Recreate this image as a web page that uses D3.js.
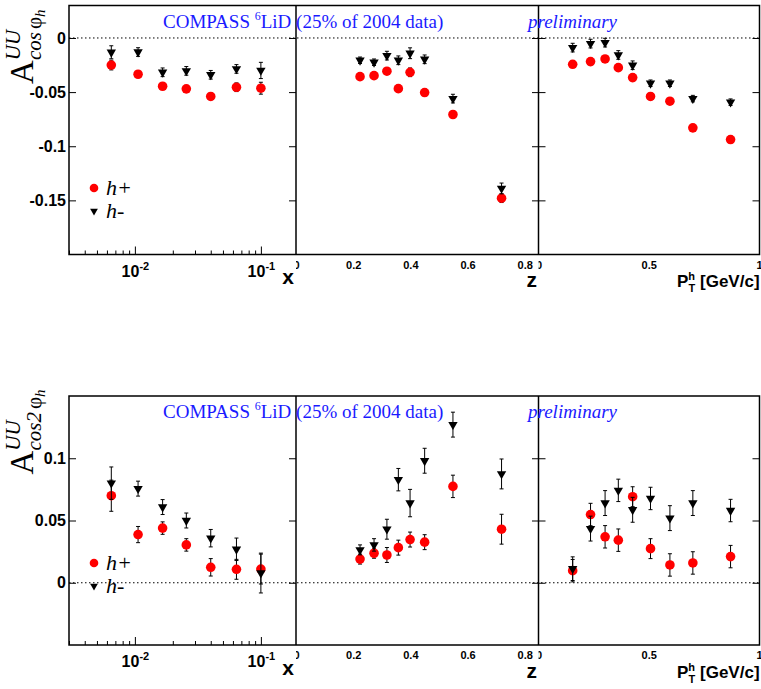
<!DOCTYPE html>
<html>
<head>
<meta charset="utf-8">
<script src="https://cdn.jsdelivr.net/npm/d3@7"></script>
<style>
body { margin: 0; background: #fff; }
</style>
</head>
<body>
<div id="chart"></div>
<script>
// bin centres
const xBins  = [0.0065, 0.0106, 0.0166, 0.0256, 0.040, 0.064, 0.100];
const zBins  = [0.224, 0.273, 0.318, 0.358, 0.399, 0.450, 0.549, 0.719];
const ptBins = [0.155, 0.236, 0.302, 0.362, 0.427, 0.508, 0.596, 0.700, 0.871];

// A_UU^cos(phi)
const hPlusCosX     = [-0.025, -0.0335, -0.0446, -0.047, -0.054, -0.0455, -0.0464];
const hPlusCosXErr  = [0.0045, 0.003, 0.003, 0.003, 0.003, 0.004, 0.0055];
const hMinusCosX    = [-0.0132, -0.013, -0.0317, -0.0304, -0.034, -0.0286, -0.030];
const hMinusCosXErr = [0.006, 0.004, 0.004, 0.004, 0.004, 0.004, 0.0075];

const hPlusCosZ     = [-0.0357, -0.0348, -0.0307, -0.0468, -0.0317, -0.0504, -0.0707, -0.148];
const hPlusCosZErr  = [0.002, 0.003, 0.003, 0.003, 0.004, 0.003, 0.003, 0.004];
const hMinusCosZ    = [-0.0206, -0.0224, -0.0163, -0.0206, -0.0141, -0.0197, -0.056, -0.139];
const hMinusCosZErr = [0.003, 0.003, 0.004, 0.004, 0.005, 0.004, 0.004, 0.005];

const hPlusCosPt     = [-0.0243, -0.0218, -0.0194, -0.0274, -0.0366, -0.054, -0.0584, -0.083, -0.0938];
const hPlusCosPtErr  = [0.003, 0.003, 0.003, 0.003, 0.003, 0.003, 0.003, 0.003, 0.003];
const hMinusCosPt    = [-0.0089, -0.0052, -0.0043, -0.0157, -0.0252, -0.0418, -0.0418, -0.056, -0.0593];
const hMinusCosPtErr = [0.004, 0.004, 0.004, 0.004, 0.004, 0.003, 0.003, 0.003, 0.003];

// A_UU^cos(2phi)
const hPlusCos2X     = [0.0699, 0.0387, 0.0439, 0.0304, 0.0124, 0.0108, 0.011];
const hPlusCos2XErr  = [0.0125, 0.0065, 0.005, 0.005, 0.007, 0.008, 0.012];
const hMinusCos2X    = [0.080, 0.0756, 0.0608, 0.050, 0.0358, 0.0269, 0.0078];
const hMinusCos2XErr = [0.013, 0.006, 0.006, 0.006, 0.007, 0.009, 0.016];

const hPlusCos2Z     = [0.019, 0.0237, 0.0223, 0.0282, 0.0347, 0.0326, 0.0774, 0.043];
const hPlusCos2ZErr  = [0.004, 0.004, 0.006, 0.006, 0.006, 0.006, 0.009, 0.012];
const hMinusCos2Z    = [0.0264, 0.0304, 0.043, 0.0828, 0.064, 0.098, 0.127, 0.0874];
const hMinusCos2ZErr = [0.004, 0.005, 0.008, 0.009, 0.011, 0.010, 0.010, 0.012];

const hPlusCos2Pt     = [0.0097, 0.0548, 0.0369, 0.0342, 0.0691, 0.0274, 0.0143, 0.0159, 0.021];
const hPlusCos2PtErr  = [0.009, 0.009, 0.009, 0.009, 0.008, 0.008, 0.009, 0.009, 0.009];
const hMinusCos2Pt    = [0.0113, 0.0435, 0.064, 0.0742, 0.0586, 0.0677, 0.0519, 0.064, 0.058];
const hMinusCos2PtErr = [0.0095, 0.010, 0.010, 0.009, 0.010, 0.009, 0.010, 0.010, 0.009];

// ticks and labels
const yTicksCos   = [0, -0.05, -0.1, -0.15];
const yLabelsCos  = ["0", "-0.05", "-0.1", "-0.15"];
const yTicksCos2  = [0, 0.05, 0.1];
const yLabelsCos2 = ["0", "0.05", "0.1"];
const xTicksLog   = [0.01, 0.1];
const xLabelsLog  = [["10", "-2"], ["10", "-1"]];
const zTicks      = [0, 0.2, 0.4, 0.6, 0.8];
const zLabels     = ["0", "0.2", "0.4", "0.6", "0.8"];
const ptTicks     = [0, 0.5, 1];
const ptLabels    = ["0", "0.5", "1"];
const legendNames = ["h+", "h-"];
const titleText   = "COMPASS";
const titleTarget = "LiD (25% of 2004 data)";
const prelimText  = "preliminary";

const W = 761, H = 689;
const sans = "'Liberation Sans', Arial, sans-serif";
const serif = "'Liberation Serif', 'Times New Roman', serif";
const blue = "#1a1aff";

const svg = d3.select("#chart").append("svg")
    .attr("width", W)
    .attr("height", H)
    .style("display", "block");

const cols = [
    {scale: d3.scaleLog().domain([0.003, 0.19]).range([69, 296]), bins: xBins},
    {scale: d3.scaleLinear().domain([0, 0.85]).range([296, 539]), bins: zBins, ticks: zTicks, labels: zLabels},
    {scale: d3.scaleLinear().domain([0, 1]).range([538.5, 759]), bins: ptBins, ticks: ptTicks, labels: ptLabels}
];

const rows = [
    {
        y: d3.scaleLinear().domain([-0.2, 0.03]).range([254.5, 5.5]),
        off: 0, ticks: yTicksCos, labels: yLabelsCos, sub: "cos",
        plus: [hPlusCosX, hPlusCosZ, hPlusCosPt], plusErr: [hPlusCosXErr, hPlusCosZErr, hPlusCosPtErr],
        minus: [hMinusCosX, hMinusCosZ, hMinusCosPt], minusErr: [hMinusCosXErr, hMinusCosZErr, hMinusCosPtErr],
        legY: [188, 211]
    },
    {
        y: d3.scaleLinear().domain([-0.05, 0.15]).range([645, 396]),
        off: 390.5, ticks: yTicksCos2, labels: yLabelsCos2, sub: "cos2",
        plus: [hPlusCos2X, hPlusCos2Z, hPlusCos2Pt], plusErr: [hPlusCos2XErr, hPlusCos2ZErr, hPlusCos2PtErr],
        minus: [hMinusCos2X, hMinusCos2Z, hMinusCos2Pt], minusErr: [hMinusCos2XErr, hMinusCos2ZErr, hMinusCos2PtErr],
        legY: [563, 586]
    }
];

// clip paths so edge labels get cut like in the pads
const defs = svg.append("defs");
cols.forEach((c, i) => {
    defs.append("clipPath").attr("id", "clip" + i)
        .append("rect")
        .attr("x", c.scale.range()[0] - (i === 0 ? 60 : 0))
        .attr("y", 0)
        .attr("width", c.scale.range()[1] - c.scale.range()[0] + (i === 0 ? 60 : 0) + (i === 2 ? 10 : 0))
        .attr("height", H);
});

const tri = d3.symbol().type(d3.symbolTriangle);

const cleanAxis = g => {
    g.select(".domain").remove();
    g.selectAll(".tick line").attr("stroke", "#000").attr("stroke-width", 1);
};

rows.forEach(row => {
    const y = row.y;
    const [yBot, yTop] = y.range();
    const xL = 69, xR = 759.5;

    // y ticks: labelled on the left, plain on pad edges
    svg.append("g")
        .attr("transform", `translate(${xL},0)`)
        .call(d3.axisLeft(y).tickValues(row.ticks).tickSizeInner(-7).tickSizeOuter(0).tickPadding(3)
            .tickFormat((d, i) => row.labels[i]))
        .call(cleanAxis)
        .call(g => g.selectAll("text")
            .attr("font-family", sans).attr("font-weight", "bold").attr("font-size", 16).attr("fill", "#000"));

    [296, 539, xR].forEach(px => {
        svg.append("g").attr("transform", `translate(${px},0)`)
            .call(d3.axisRight(y).tickValues(row.ticks).tickSizeInner(-7).tickSizeOuter(0).tickFormat(""))
            .call(cleanAxis);
    });
    svg.append("g").attr("transform", `translate(538.5,0)`)
        .call(d3.axisLeft(y).tickValues(row.ticks).tickSizeInner(-7).tickSizeOuter(0).tickFormat(""))
        .call(cleanAxis);

    // x axes
    const logScale = cols[0].scale;
    const minors = logScale.ticks().filter(t => !xTicksLog.some(m => Math.abs(m - t) < 1e-9));
    svg.append("g").attr("transform", `translate(0,${yBot})`)
        .call(d3.axisBottom(logScale).tickValues(minors).tickSizeInner(-4).tickSizeOuter(0).tickFormat(""))
        .call(cleanAxis);
    const gLog = svg.append("g").attr("transform", `translate(0,${yBot})`)
        .call(d3.axisBottom(logScale).tickValues(xTicksLog).tickSizeInner(-8).tickSizeOuter(0).tickFormat(""))
        .call(cleanAxis);
    gLog.selectAll(".tick").append("text")
        .attr("y", 22)
        .attr("text-anchor", "middle")
        .attr("font-family", sans).attr("font-weight", "bold").attr("font-size", 16).attr("fill", "#000")
        .each(function(d, i) {
            const t = d3.select(this);
            t.append("tspan").text(xLabelsLog[i][0]);
            t.append("tspan").attr("dy", -7).attr("font-size", 11).text(xLabelsLog[i][1]);
        });

    cols.slice(1).forEach((c, k) => {
        svg.append("g").attr("transform", `translate(0,${yBot})`)
            .attr("clip-path", `url(#clip${k + 1})`)
            .call(d3.axisBottom(c.scale).tickValues(c.ticks).tickSizeInner(-8).tickSizeOuter(0).tickPadding(6.5)
                .tickFormat((d, i) => c.labels[i]))
            .call(cleanAxis)
            .call(g => g.selectAll("text")
                .attr("font-family", sans).attr("font-weight", "bold").attr("font-size", 11).attr("fill", "#000"));
    });

    // axis titles
    const tStyle = s => s.attr("font-family", sans).attr("font-weight", "bold").attr("fill", "#000");
    svg.append("text").attr("x", 294).attr("y", 284 + row.off).attr("text-anchor", "end")
        .attr("font-size", 21).call(tStyle).text("x");
    svg.append("text").attr("x", 537).attr("y", 287 + row.off).attr("text-anchor", "end")
        .attr("font-size", 21).call(tStyle).text("z");
    const pt = svg.append("text").attr("x", 677).attr("y", 287 + row.off)
        .attr("font-size", 17).call(tStyle);
    pt.append("tspan").text("P");
    pt.append("tspan").attr("font-size", 11).attr("dy", -7).text("h");
    pt.append("tspan").attr("font-size", 11).attr("dx", -6.5).attr("dy", 12).text("T");
    pt.append("tspan").attr("dy", -5).text(" [GeV/c]");

    // zero line
    svg.append("line")
        .attr("x1", xL).attr("x2", xR).attr("y1", y(0)).attr("y2", y(0))
        .attr("stroke", "#000").attr("stroke-width", 1).attr("stroke-dasharray", "1.5,2.5");

    // frame and pad dividers
    svg.append("rect")
        .attr("x", xL).attr("y", yTop).attr("width", xR - xL).attr("height", yBot - yTop)
        .attr("fill", "none").attr("stroke", "#000").attr("stroke-width", 1.5);
    [296, 538.5].forEach(px => {
        svg.append("line").attr("x1", px).attr("x2", px).attr("y1", yTop).attr("y2", yBot)
            .attr("stroke", "#000").attr("stroke-width", 1.5);
    });

    // data
    cols.forEach((c, k) => {
        const series = [
            {vals: row.plus[k], errs: row.plusErr[k], type: "circle"},
            {vals: row.minus[k], errs: row.minusErr[k], type: "tri"}
        ];
        series.forEach(s => {
            const pts = c.bins.map((b, i) => ({x: b, v: s.vals[i], e: s.errs[i]}));
            const g = svg.append("g");
            const eb = g.selectAll("g.err").data(pts).join("g").attr("class", "err")
                .attr("stroke", "#000").attr("stroke-width", 1);
            eb.append("line")
                .attr("x1", d => c.scale(d.x)).attr("x2", d => c.scale(d.x))
                .attr("y1", d => y(d.v + d.e)).attr("y2", d => y(d.v - d.e));
            eb.append("line")
                .attr("x1", d => c.scale(d.x) - 2).attr("x2", d => c.scale(d.x) + 2)
                .attr("y1", d => y(d.v + d.e)).attr("y2", d => y(d.v + d.e));
            eb.append("line")
                .attr("x1", d => c.scale(d.x) - 2).attr("x2", d => c.scale(d.x) + 2)
                .attr("y1", d => y(d.v - d.e)).attr("y2", d => y(d.v - d.e));
            if (s.type === "circle") {
                g.selectAll("circle").data(pts).join("circle")
                    .attr("cx", d => c.scale(d.x)).attr("cy", d => y(d.v)).attr("r", 4.8)
                    .attr("fill", "#ff0000");
            } else {
                g.selectAll("path.m").data(pts).join("path").attr("class", "m")
                    .attr("d", tri.size(38)())
                    .attr("transform", d => `translate(${c.scale(d.x)},${y(d.v)}) rotate(180)`)
                    .attr("fill", "#000");
            }
        });
    });

    // legend
    svg.append("circle").attr("cx", 94).attr("cy", row.legY[0]).attr("r", 4.3).attr("fill", "#ff0000");
    svg.append("path").attr("d", tri.size(26)())
        .attr("transform", `translate(94,${row.legY[1]}) rotate(180)`).attr("fill", "#000");
    legendNames.forEach((n, i) => {
        svg.append("text").attr("x", 106).attr("y", row.legY[i] + 7)
            .attr("font-family", serif).attr("font-style", "italic").attr("font-size", 22)
            .attr("fill", "#000").text(n);
    });

    // header texts
    const tt = svg.append("text").attr("x", 163).attr("y", 27.5 + row.off)
        .attr("font-family", serif).attr("font-size", 19).attr("fill", blue);
    tt.append("tspan").text(titleText + " ");
    tt.append("tspan").attr("font-size", 12).attr("dy", -8).text("6");
    tt.append("tspan").attr("dy", 8).text(titleTarget);
    svg.append("text").attr("x", 528).attr("y", 27.5 + row.off)
        .attr("font-family", serif).attr("font-style", "italic").attr("font-size", 19).attr("fill", blue)
        .text(prelimText);

    // y title
    const yt = svg.append("text")
        .attr("transform", `translate(33,${84 + row.off}) rotate(-90)`)
        .attr("font-family", serif).attr("fill", "#000");
    yt.append("tspan").attr("font-size", 33).text("A");
    yt.append("tspan").attr("font-size", 21).attr("font-style", "italic").attr("dy", -13).text("UU");
    yt.append("tspan").attr("font-size", 21).attr("font-style", "italic").attr("x", 24).attr("dy", 21).text(row.sub);
    yt.append("tspan").attr("font-size", 21).attr("dx", 3).text("φ");
    yt.append("tspan").attr("font-size", 15).attr("font-style", "italic").attr("dy", 4).text("h");
});
</script>
</body>
</html>
